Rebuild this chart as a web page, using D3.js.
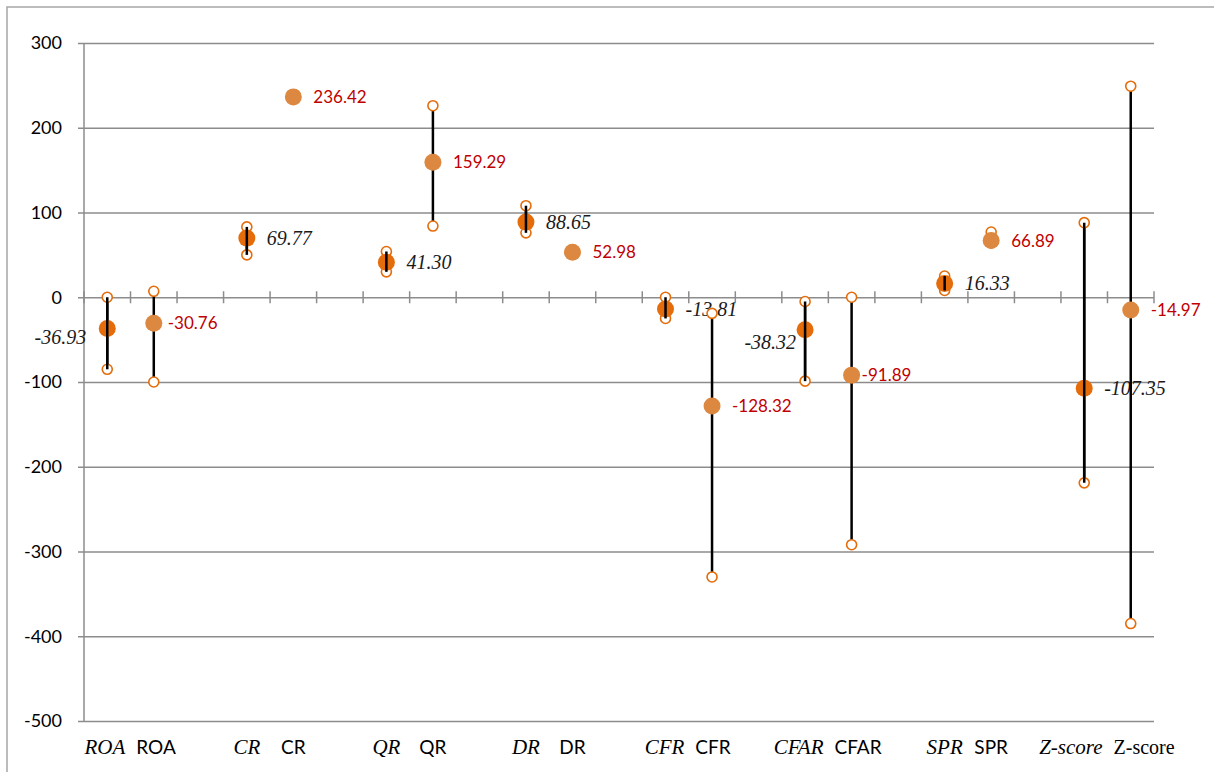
<!DOCTYPE html>
<html>
<head>
<meta charset="utf-8">
<script src="https://cdn.jsdelivr.net/npm/d3@7"></script>
<style>
  html, body { margin: 0; padding: 0; background: #fff; }
  svg { display: block; }
</style>
</head>
<body>
<svg id="chart" width="1214" height="772"></svg>
<script>
// Indicator names (each indicator has two series side by side)
const categories = ["ROA", "CR", "QR", "DR", "CFR", "CFAR", "SPR", "Z-score"];

// Series A (italic labels): mean with upper / lower bound
const meanA = [-36.93, 69.77, 41.30, 88.65, -13.81, -38.32, 16.33, -107.35];
const highA = [0, 83, 54, 108, 0, -5, 25, 88];
const lowA  = [-85, 50, 30, 76, -25, -99, 8, -219];

// Series B (upright labels): mean with upper / lower bound
const meanB = [-30.76, 236.42, 159.29, 52.98, -128.32, -91.89, 66.89, -14.97];
const highB = [7, 238, 226, 54, -19, 0, 77, 249];
const lowB  = [-100, 235, 84, 51, -330, -292, 64, -385];

// Value axis ticks
const yTicks = [300, 200, 100, 0, -100, -200, -300, -400, -500];

// ---- layout ----
const svg = d3.select("#chart");
const plot = { left: 84, right: 1154, top: 43, bottom: 721 };
const serif = "'Liberation Serif', 'Times New Roman', serif";
const sans = "Lato, 'Open Sans', sans-serif";
// two decimals with a plain hyphen for negatives
const fmt = v => d3.format(".2f")(v).replace("\u2212", "-");

// outer frame (open on the right and bottom edges)
svg.append("rect")
  .attr("x", 7).attr("y", 7)
  .attr("width", 1300).attr("height", 900)
  .attr("fill", "none").attr("stroke", "#a6a6a6").attr("stroke-width", 1.5);

// slots: A, B, gap for every indicator (no gap after the last)
const slots = [];
categories.forEach((c, i) => {
  slots.push(c + "|A");
  slots.push(c + "|B");
  if (i < categories.length - 1) slots.push(c + "|gap");
});

const x = d3.scaleBand().domain(slots).range([plot.left, plot.right]).padding(0);
const y = d3.scaleLinear().domain([-500, 300]).range([plot.bottom, plot.top]);

const grid = "#8c8c8c";

// horizontal gridlines + y tick marks
const yAxis = d3.axisLeft(y).tickValues(yTicks).tickSize(6).tickPadding(16)
  .tickFormat(v => d3.format("d")(v).replace("\u2212", "-"));
const gy = svg.append("g").attr("transform", `translate(${plot.left},0)`).call(yAxis);
gy.select(".domain").remove();
gy.selectAll(".tick line").attr("stroke", grid).attr("stroke-width", 1.5)
  .attr("x1", -6).attr("x2", plot.right - plot.left);
gy.selectAll(".tick text")
  .attr("font-family", sans)
  .attr("font-size", 18).attr("fill", "#000");

// vertical value axis line
svg.append("line")
  .attr("x1", plot.left).attr("x2", plot.left)
  .attr("y1", y(300)).attr("y2", y(-500))
  .attr("stroke", grid).attr("stroke-width", 1.5);

// category axis crossing at zero, with cross tick marks at slot boundaries
const y0 = y(0);
const boundaries = d3.range(slots.length + 1).map(k => plot.left + k * x.step());
svg.append("g").selectAll("line").data(boundaries).join("line")
  .attr("x1", d => d).attr("x2", d => d)
  .attr("y1", y0 - 6).attr("y2", y0 + 6)
  .attr("stroke", grid).attr("stroke-width", 1.5);

// category labels along the bottom: each name centred under its own slot,
// pushed apart when the italic and upright names would collide
const labelY = 754;
const minGap = 11;
const catG = svg.append("g");
categories.forEach(c => {
  const cxA = x(c + "|A") + x.bandwidth() / 2;
  const cxB = x(c + "|B") + x.bandwidth() / 2;
  const upright = c === "Z-score";
  const tA = catG.append("text")
    .attr("y", labelY).attr("text-anchor", "middle")
    .attr("font-family", serif)
    .attr("font-style", "italic").attr("font-size", 21)
    .text(c);
  const tB = catG.append("text")
    .attr("y", labelY).attr("text-anchor", "middle")
    .attr("font-family", upright ? serif : sans)
    .attr("font-size", upright ? 20 : 19)
    .text(c);
  const wA = tA.node().getComputedTextLength();
  const wB = tB.node().getComputedTextLength();
  const overlap = (cxA + wA / 2 + minGap) - (cxB - wB / 2);
  const shift = overlap > 0 ? overlap / 2 : 0;
  tA.attr("x", cxA - shift);
  tB.attr("x", cxB + shift);
});

// build the two series as records
const series = [
  { key: "A", mean: meanA, high: highA, low: lowA, dot: "#e46c0a" },
  { key: "B", mean: meanB, high: highB, low: lowB, dot: "#dd8841" }
];

// label nudges (dx, dy, anchor) per series/indicator; default sits to the right
const labelPlace = {
  "A|ROA":  { dx: -21, dy: 8,  anchor: "end" },
  "A|CFAR": { dx: -9,  dy: 12, anchor: "end" },
  "B|ROA":  { dx: 14, dy: 0, anchor: "start" },
  "B|CFAR": { dx: 10, dy: 0, anchor: "start" }
};

series.forEach(s => {
  const rows = categories.map((c, i) => ({
    cat: c, cx: x(c + "|" + s.key) + x.bandwidth() / 2,
    mean: s.mean[i], high: s.high[i], low: s.low[i]
  }));
  const g = svg.append("g");

  // range lines
  g.selectAll("line.range").data(rows).join("line").attr("class", "range")
    .attr("x1", d => d.cx).attr("x2", d => d.cx)
    .attr("y1", d => y(d.high)).attr("y2", d => y(d.low))
    .attr("stroke", "#000").attr("stroke-width", 2.5);

  // open end markers
  const ends = rows.flatMap(d => [{ cx: d.cx, v: d.high }, { cx: d.cx, v: d.low }]);
  g.selectAll("circle.end").data(ends).join("circle").attr("class", "end")
    .attr("cx", d => d.cx).attr("cy", d => y(d.v)).attr("r", 5)
    .attr("fill", "#fff").attr("stroke", "#e46c0a").attr("stroke-width", 1.6);

  // mean markers
  g.selectAll("circle.mean").data(rows).join("circle").attr("class", "mean")
    .attr("cx", d => d.cx).attr("cy", d => y(d.mean)).attr("r", 8.5)
    .attr("fill", s.dot);

  // series A keeps its range line visible across the mean marker
  if (s.key === "A") {
    g.selectAll("line.over").data(rows).join("line").attr("class", "over")
      .attr("x1", d => d.cx).attr("x2", d => d.cx)
      .attr("y1", d => y(d.high)).attr("y2", d => y(d.low))
      .attr("stroke", "#000").attr("stroke-width", 2.5);
  }

  // value labels
  g.selectAll("text.val").data(rows).join("text").attr("class", "val")
    .each(function (d) {
      const p = labelPlace[s.key + "|" + d.cat] || { dx: 20, dy: 0, anchor: "start" };
      d3.select(this)
        .attr("x", d.cx + p.dx).attr("y", y(d.mean) + p.dy)
        .attr("dy", "0.35em").attr("text-anchor", p.anchor);
    })
    .attr("font-family", s.key === "A" ? serif : sans)
    .attr("font-style", s.key === "A" ? "italic" : "normal")
    .attr("font-size", s.key === "A" ? 20 : 17)
    .attr("fill", s.key === "A" ? "#1a1a1a" : "#c00000")
    .text(d => fmt(d.mean));
});
</script>
</body>
</html>
